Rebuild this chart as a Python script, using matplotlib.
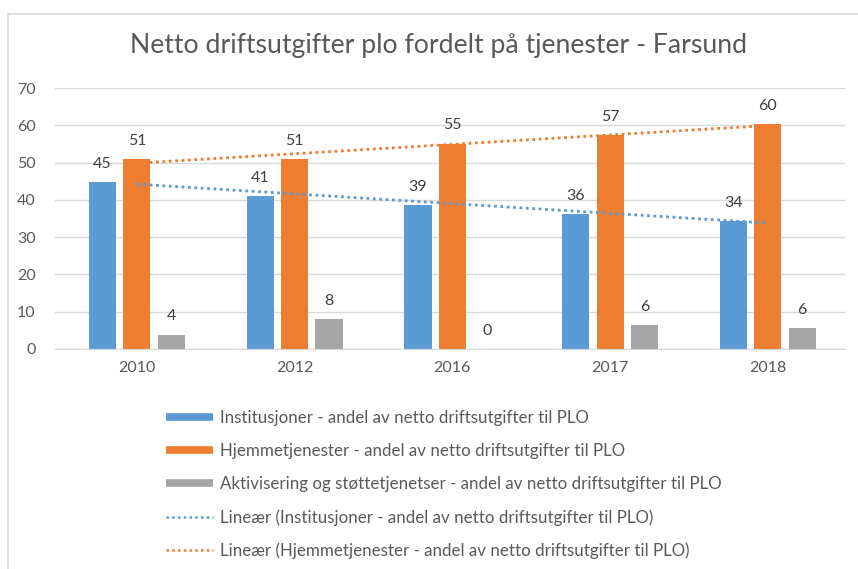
import numpy as np
import matplotlib.pyplot as plt
from matplotlib.lines import Line2D
from matplotlib.patches import Rectangle

plt.rcParams['font.family'] = ['Lato', 'DejaVu Sans']

years = ['2010', '2012', '2016', '2017', '2018']
institusjoner = [44.8, 41.1, 38.7, 36.2, 34.2]
hjemmetjenester = [50.9, 50.9, 55.1, 57.4, 60.3]
aktivisering = [3.8, 8.0, 0.0, 6.3, 5.6]

labels = [
    'Institusjoner - andel av netto driftsutgifter til PLO',
    'Hjemmetjenester - andel av netto driftsutgifter til PLO',
    'Aktivisering og støttetjenetser - andel av netto driftsutgifter til PLO',
    'Lineær (Institusjoner - andel av netto driftsutgifter til PLO)',
    'Lineær (Hjemmetjenester - andel av netto driftsutgifter til PLO)',
]

blue = '#5b9bd5'
orange = '#ed7d31'
gray = '#a5a5a5'
text_col = '#595959'

fig = plt.figure(figsize=(8.58, 5.69), dpi=100)
ax = fig.add_axes([0.064, 0.387, 0.921, 0.458])

x = np.arange(len(years))
w = 0.172
off = 0.218
series = [(institusjoner, blue, -off), (hjemmetjenester, orange, 0), (aktivisering, gray, off)]
for vals, col, o in series:
    ax.bar(x + o, vals, width=w, color=col, zorder=2)
    for xi, v in zip(x, vals):
        ax.text(xi + o, v + 3.0, f'{v:.0f}', ha='center', va='bottom',
                fontsize=11.5, color='#404040')

# linear trend lines
for vals, col in [(institusjoner, blue), (hjemmetjenester, orange)]:
    k, m = np.polyfit(x, vals, 1)
    ax.plot(x, k * x + m, color=col, lw=2, linestyle=(0, (1, 1.3)), zorder=3)

ax.set_xlim(-0.52, 4.49)
ax.set_ylim(0, 70)
ax.set_yticks(range(0, 71, 10))
ax.set_xticks(x)
ax.set_xticklabels(years)
ax.yaxis.grid(True, color='#d9d9d9', lw=1)
ax.set_axisbelow(True)
for s in ax.spines.values():
    s.set_visible(False)
ax.spines['bottom'].set_visible(True)
ax.spines['bottom'].set_color('#d9d9d9')
ax.tick_params(axis='both', length=0, labelsize=11.5, colors=text_col)
ax.tick_params(axis='y', pad=14)
ax.tick_params(axis='x', pad=9)

fig.text(0.511, 1 - 46 / 569, 'Netto driftsutgifter plo fordelt på tjenester - Farsund',
         ha='center', va='center', fontsize=19.2, color='#595959')

handles = [
    Line2D([], [], color=blue, lw=5.5, solid_capstyle='butt'),
    Line2D([], [], color=orange, lw=5.5, solid_capstyle='butt'),
    Line2D([], [], color=gray, lw=5.5, solid_capstyle='butt'),
    Line2D([], [], color=blue, lw=1.8, linestyle=(0, (1, 1.3))),
    Line2D([], [], color=orange, lw=1.8, linestyle=(0, (1, 1.3))),
]
leg = fig.legend(handles, labels, loc='upper left', bbox_to_anchor=(151 / 858, 1 - 395 / 569),
                 frameon=False, fontsize=12.2, handlelength=2.75, handletextpad=0.45,
                 labelspacing=1.0)
for t in leg.get_texts():
    t.set_color(text_col)

fig.add_artist(Rectangle((8 / 858, -0.1), 1.2, 1.1 - 14 / 569, transform=fig.transFigure,
                         fill=False, edgecolor='#d9d9d9', lw=1.2))

fig.savefig('out.png', dpi=100)
